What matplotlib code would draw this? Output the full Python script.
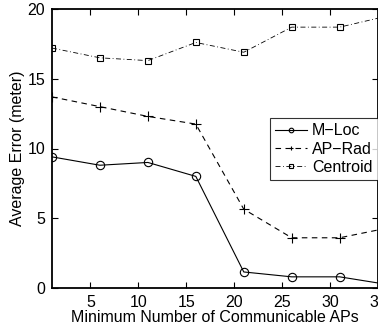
import matplotlib
matplotlib.use("Agg")
import matplotlib.pyplot as plt

x = [1, 6, 11, 16, 21, 26, 31, 36]
m_loc = [9.4, 8.8, 9.0, 8.0, 1.15, 0.8, 0.8, 0.25]
ap_rad = [13.7, 13.0, 12.3, 11.75, 5.65, 3.6, 3.6, 4.3]
centroid = [17.2, 16.5, 16.3, 17.6, 16.9, 18.7, 18.7, 19.5]
labels = ["M\u2212Loc", "AP\u2212Rad", "Centroid"]

plt.rcParams['font.family'] = ['Liberation Sans', 'DejaVu Sans']
fig = plt.figure(figsize=(3.78, 3.31), dpi=100)
ax = fig.add_axes([52/378, 1-288/331, 1-52/378, (288-9)/331])

ax.plot(x, m_loc, '-', color='black', lw=0.8, marker='o', ms=6, mfc='none', mew=0.8, label=labels[0])
ax.plot(x, ap_rad, '--', color='black', lw=0.8, marker='+', ms=6.5, mew=0.8, dashes=(5, 4), label=labels[1])
ax.plot(x, centroid, color='black', lw=0.6, marker='s', ms=5, mfc='none', mew=0.8,
        dashes=(6, 3, 1, 3), label=labels[2])

ax.set_xlim(1, 35)
ax.set_ylim(0, 20)
ax.set_xticks([5, 10, 15, 20, 25, 30, 35])
ax.set_yticks([0, 5, 10, 15, 20])
ax.tick_params(direction='in', top=True, right=True, labelsize=11.5, length=4, width=0.8, pad=5)
for s in ax.spines.values():
    s.set_linewidth(1.3)
ax.set_xlabel("Minimum Number of Communicable APs", fontsize=11.5, labelpad=0)
ax.set_ylabel("Average Error (meter)", fontsize=11.5, labelpad=2)

leg = ax.legend(loc='upper right', bbox_to_anchor=(1.0, 0.61), fontsize=11.5, frameon=True, fancybox=False,
                edgecolor='black', handlelength=2.0, handletextpad=0.3, borderpad=0.35, labelspacing=0.2,
                markerscale=0.55, borderaxespad=0.0)
leg.get_frame().set_linewidth(0.8)

fig.savefig("out.png", dpi=100)
